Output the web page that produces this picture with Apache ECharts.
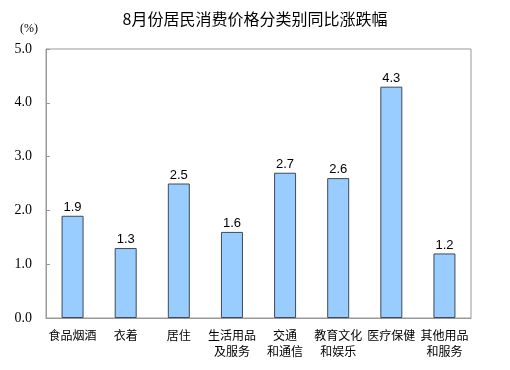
<!DOCTYPE html>
<html>
<head>
<meta charset="utf-8">
<script src="https://cdn.jsdelivr.net/npm/echarts@6/dist/echarts.min.js"></script>
<style>html,body{margin:0;padding:0;background:#fff}#c{width:510px;height:370px}</style>
</head>
<body>
<div id="c"></div>
<script>
var titleText = '8月份居民消费价格分类别同比涨跌幅';
var unitText = '(%)';
var categories = ['食品烟酒', '衣着', '居住', '生活用品\n及服务', '交通\n和通信', '教育文化\n和娱乐', '医疗保健', '其他用品\n和服务'];
var values = [1.9, 1.3, 2.5, 1.6, 2.7, 2.6, 4.3, 1.2];
var yTicks = [0, 1, 2, 3, 4, 5];

var chart = echarts.init(document.getElementById('c'), null, {renderer: 'canvas'});
chart.setOption({
  animation: false,
  backgroundColor: '#fff',
  title: {
    text: titleText,
    left: 'center',
    top: 6,
    textStyle: {fontFamily: 'Noto Sans CJK SC', fontSize: 16, fontWeight: 'normal', color: '#000'}
  },
  graphic: [{
    type: 'text', left: 20, top: 23,
    style: {text: unitText, font: '12px "Liberation Serif"', fill: '#000'}
  }],
  grid: {left: 46, right: 39, top: 49, bottom: 52, show: true, borderColor: '#999', borderWidth: 1},
  xAxis: {
    type: 'category',
    data: categories,
    axisLine: {lineStyle: {color: '#999'}},
    axisTick: {show: false},
    axisLabel: {
      interval: 0, margin: 9, color: '#000',
      fontFamily: 'Noto Sans CJK SC', fontSize: 12, lineHeight: 16
    }
  },
  yAxis: {
    type: 'value', min: yTicks[0], max: yTicks[yTicks.length - 1], interval: 1,
    axisLine: {show: true, lineStyle: {color: '#999'}},
    axisTick: {show: true, inside: true, length: 4, lineStyle: {color: '#999'}},
    splitLine: {show: false},
    axisLabel: {
      margin: 14, color: '#000', fontFamily: 'Liberation Serif', fontSize: 14,
      formatter: function (v) { return v.toFixed(1); }
    }
  },
  series: [{
    type: 'bar',
    data: values,
    barWidth: 22,
    itemStyle: {color: '#99CCFF', borderColor: '#3f4a55', borderWidth: 1},
    label: {
      show: true, position: 'top', distance: 2, color: '#000',
      fontFamily: 'Liberation Sans', fontSize: 13,
      formatter: function (p) { return p.value.toFixed(1); }
    }
  }]
});
</script>
</body>
</html>
